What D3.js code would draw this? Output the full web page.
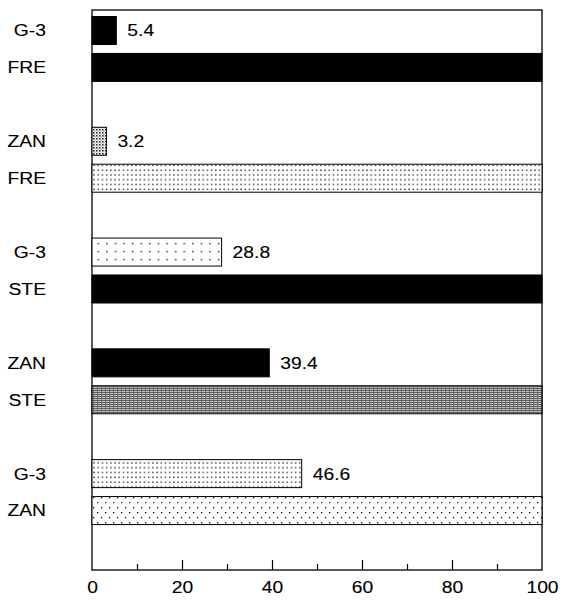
<!DOCTYPE html>
<html>
<head>
<meta charset="utf-8">
<script src="https://cdn.jsdelivr.net/npm/d3@7"></script>
<style>
  html, body { margin: 0; padding: 0; background: #fff; }
  svg { display: block; }
  text { font-family: "Liberation Sans", Arial, Helvetica, sans-serif; fill: #000; }
</style>
</head>
<body>
<svg id="chart" width="571" height="604"></svg>
<script>
// ---- data ----
const topLabels = ["G-3", "ZAN", "G-3", "ZAN", "G-3"];
const bottomLabels = ["FRE", "FRE", "STE", "STE", "ZAN"];
const values = [5.4, 3.2, 28.8, 39.4, 46.6];
const refValues = [100, 100, 100, 100, 100];
const xTicks = [0, 20, 40, 60, 80, 100];
const minorTicks = [10, 30, 50, 70, 90];

// ---- styles (not data) ----
const topFills = ["url(#solid)", "url(#stipple)", "url(#sparse)", "url(#solid)", "url(#dots)"];
const bottomFills = ["url(#solid)", "url(#dots)", "url(#solid)", "url(#hlines)", "url(#stagger)"];
const FS = 16.5, SX = 1.17;

const svg = d3.select("#chart");
const mLeft = 92, mRight = 542, mTop = 10, mBottom = 570;

const x = d3.scaleLinear().domain([0, 100]).range([mLeft, mRight]);
// slot index: each pair occupies two slots, followed by an empty slot
const y = d3.scaleLinear().domain([-0.555, 14.61]).range([mTop, mBottom]);
const barH = 28;

// patterns
const defs = svg.append("defs");
defs.append("pattern").attr("id", "solid").attr("patternUnits", "userSpaceOnUse")
  .attr("width", 4).attr("height", 4)
  .append("rect").attr("width", 4).attr("height", 4).attr("fill", "#000");

const st = defs.append("pattern").attr("id", "stipple").attr("patternUnits", "userSpaceOnUse")
  .attr("width", 3).attr("height", 3);
st.append("rect").attr("width", 3).attr("height", 3).attr("fill", "#fff");
st.append("rect").attr("x", 0).attr("y", 0).attr("width", 1.5).attr("height", 1.5).attr("fill", "#222");
st.append("rect").attr("x", 1.5).attr("y", 1.5).attr("width", 1).attr("height", 1).attr("fill", "#555");

const dt = defs.append("pattern").attr("id", "dots").attr("patternUnits", "userSpaceOnUse")
  .attr("width", 4.2).attr("height", 4.8);
dt.append("rect").attr("width", 4.2).attr("height", 4.8).attr("fill", "#fff");
dt.append("rect").attr("x", 1).attr("y", 1.5).attr("width", 1.3).attr("height", 1.3).attr("fill", "#111");

const sp = defs.append("pattern").attr("id", "sparse").attr("patternUnits", "userSpaceOnUse")
  .attr("width", 8.6).attr("height", 8);
sp.append("rect").attr("width", 8.6).attr("height", 8).attr("fill", "#fff");
sp.append("rect").attr("x", 3).attr("y", 3).attr("width", 1.3).attr("height", 1.3).attr("fill", "#111");

const sg = defs.append("pattern").attr("id", "stagger").attr("patternUnits", "userSpaceOnUse")
  .attr("width", 8).attr("height", 10);
sg.append("rect").attr("width", 8).attr("height", 10).attr("fill", "#fff");
sg.append("rect").attr("x", 1).attr("y", 2).attr("width", 1.3).attr("height", 1.3).attr("fill", "#111");
sg.append("rect").attr("x", 5).attr("y", 7).attr("width", 1.3).attr("height", 1.3).attr("fill", "#111");

const hl = defs.append("pattern").attr("id", "hlines").attr("patternUnits", "userSpaceOnUse")
  .attr("width", 4).attr("height", 2);
hl.append("rect").attr("width", 4).attr("height", 2).attr("fill", "#c4c4c4");
hl.append("rect").attr("x", 0).attr("y", 0).attr("width", 4).attr("height", 1).attr("fill", "#5e5e5e");
hl.append("rect").attr("x", 1).attr("y", 1).attr("width", 1).attr("height", 1).attr("fill", "#7a7a7a");

// frame
svg.append("rect")
  .attr("x", mLeft).attr("y", mTop)
  .attr("width", mRight - mLeft).attr("height", mBottom - mTop)
  .attr("fill", "none").attr("stroke", "#000").attr("stroke-width", 1.3);

// bars
const idx = d3.range(values.length);
const g = svg.append("g");

g.selectAll("rect.top").data(idx).join("rect").attr("class", "top")
  .attr("x", x(0))
  .attr("y", i => y(i * 3) - barH / 2)
  .attr("width", i => x(values[i]) - x(0))
  .attr("height", barH)
  .attr("fill", i => topFills[i])
  .attr("stroke", "#000").attr("stroke-width", 1);

g.selectAll("rect.bot").data(idx).join("rect").attr("class", "bot")
  .attr("x", x(0))
  .attr("y", i => y(i * 3 + 1) - barH / 2)
  .attr("width", i => x(refValues[i]) - x(0))
  .attr("height", barH)
  .attr("fill", i => bottomFills[i])
  .attr("stroke", "#000").attr("stroke-width", 1);

function styleText(sel) {
  sel.attr("font-size", FS)
    .attr("stroke", "#000").attr("stroke-width", 0.12)
    .attr("font-family", "Liberation Sans, Arial, sans-serif").attr("fill", "#000");
}

// value labels
g.selectAll("text.val").data(idx).join("text").attr("class", "val")
  .attr("transform", i => `translate(${x(values[i]) + 11},${y(i * 3)}) scale(${SX},1)`)
  .attr("dy", "0.36em")
  .call(styleText)
  .text(i => values[i].toFixed(1));

// category labels
g.selectAll("text.tl").data(idx).join("text").attr("class", "tl")
  .attr("transform", i => `translate(46,${y(i * 3)}) scale(${SX},1)`)
  .attr("dy", "0.36em").attr("text-anchor", "end")
  .call(styleText)
  .text(i => topLabels[i]);

g.selectAll("text.bl").data(idx).join("text").attr("class", "bl")
  .attr("transform", i => `translate(46,${y(i * 3 + 1)}) scale(${SX},1)`)
  .attr("dy", "0.36em").attr("text-anchor", "end")
  .call(styleText)
  .text(i => bottomLabels[i]);

// x axis: inward ticks
const axisMajor = d3.axisBottom(x).tickValues(xTicks).tickSize(-10).tickPadding(11)
  .tickFormat(d3.format("d"));
const ax = svg.append("g").attr("transform", `translate(0,${mBottom})`).call(axisMajor);
ax.select(".domain").remove();
ax.selectAll("line").attr("stroke", "#000").attr("stroke-width", 1.2);
ax.selectAll("text").call(styleText).attr("transform", `scale(${SX},1)`);
ax.selectAll(".tick").filter(d => d === 0 || d === 100).select("line").remove();

const axisMinor = d3.axisBottom(x).tickValues(minorTicks).tickSize(-6).tickFormat("");
const axm = svg.append("g").attr("transform", `translate(0,${mBottom})`).call(axisMinor);
axm.select(".domain").remove();
axm.selectAll("line").attr("stroke", "#000").attr("stroke-width", 1.2);
</script>
</body>
</html>
